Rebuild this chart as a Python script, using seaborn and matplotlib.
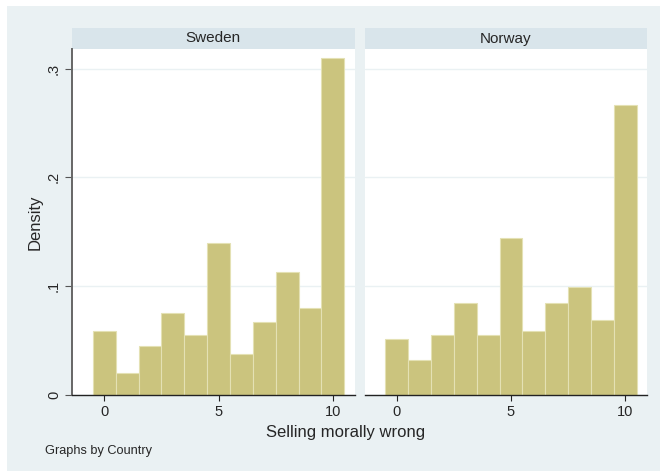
import pandas as pd
import seaborn as sns
import matplotlib.pyplot as plt
from matplotlib.patches import Rectangle

# values (density per integer score 0..10)
scores = [0, 1, 2, 3, 4, 5, 6, 7, 8, 9, 10]
sweden_density = [0.059, 0.020, 0.045, 0.075, 0.0555, 0.140, 0.0375, 0.067, 0.113, 0.080, 0.310]
norway_density = [0.0515, 0.032, 0.055, 0.085, 0.055, 0.144, 0.059, 0.0845, 0.099, 0.069, 0.2665]
countries = ['Sweden', 'Norway']

df = pd.concat([
    pd.DataFrame({'Country': 'Sweden', 'score': scores, 'density': sweden_density}),
    pd.DataFrame({'Country': 'Norway', 'score': scores, 'density': norway_density}),
])

sns.set_style("white")
plt.rcParams['font.family'] = ['Liberation Sans', 'DejaVu Sans']

bg = '#EAF1F3'
strip_col = '#D9E5EB'
bar_col = '#CBC47E'

g = sns.FacetGrid(df, col='Country', col_order=countries, sharey=True, sharex=True,
                  height=4.71, aspect=0.7, despine=False)
g.map_dataframe(sns.histplot, x='score', weights='density', discrete=True,
                color=bar_col, alpha=1, edgecolor='#E4E1B4', linewidth=0.8)

fig = g.figure
fig.set_size_inches(6.6, 4.71)
fig.set_facecolor('white')
fig.patches.append(Rectangle((7 / 660, 0), 653 / 660, 465 / 471, transform=fig.transFigure,
                             facecolor=bg, edgecolor='none', zorder=-10))
fig.subplots_adjust(left=72 / 660, right=647 / 660, bottom=1 - 395 / 471, top=1 - 49 / 471,
                    wspace=10 / 282.5)

axis_h = 346.0
for ax, name in zip(g.axes.flat, countries):
    ax.set_title('')
    ax.set_xlabel('')
    ax.set_ylabel('')
    ax.set_xlim(-1.41, 10.95)
    ax.set_ylim(0, 0.318)
    ax.set_xticks([0, 5, 10])
    ax.set_yticks([0, 0.1, 0.2, 0.3])
    ax.grid(axis='y', color=bg, linewidth=1.0)
    ax.set_axisbelow(True)
    ax.spines['top'].set_visible(False)
    ax.spines['right'].set_visible(False)
    ax.spines['bottom'].set_color('#222222')
    ax.spines['bottom'].set_linewidth(1.0)
    ax.tick_params(axis='x', bottom=True, length=4, width=0.8, color='#222222',
                   labelsize=10.5, pad=3)
    ax.add_patch(Rectangle((0, 1), 1, 21 / axis_h, transform=ax.transAxes, clip_on=False,
                           facecolor=strip_col, edgecolor='none'))
    ax.text(0.5, 1 + 10.5 / axis_h, name, transform=ax.transAxes, ha='center', va='center',
            fontsize=11)

left_ax = g.axes.flat[0]
left_ax.spines['left'].set_color('#666666')
left_ax.spines['left'].set_linewidth(1.4)
left_ax.set_yticklabels(['0', '.1', '.2', '.3'], rotation=90, va='center')
left_ax.tick_params(axis='y', left=True, length=5, width=0.8, color='#555555',
                    labelsize=10.5, pad=3)

right_ax = g.axes.flat[1]
right_ax.spines['left'].set_visible(False)
right_ax.tick_params(axis='y', left=False, labelleft=False)

fig.text(35 / 660, 1 - 222 / 471, 'Density', rotation=90, ha='center', va='center', fontsize=12)
fig.text(346 / 660, 1 - 433 / 471, 'Selling morally wrong', ha='center', va='center', fontsize=12)
fig.text(45 / 660, 1 - 451 / 471, 'Graphs by Country', ha='left', va='center', fontsize=9.2)

fig.savefig('out.png', dpi=100)
